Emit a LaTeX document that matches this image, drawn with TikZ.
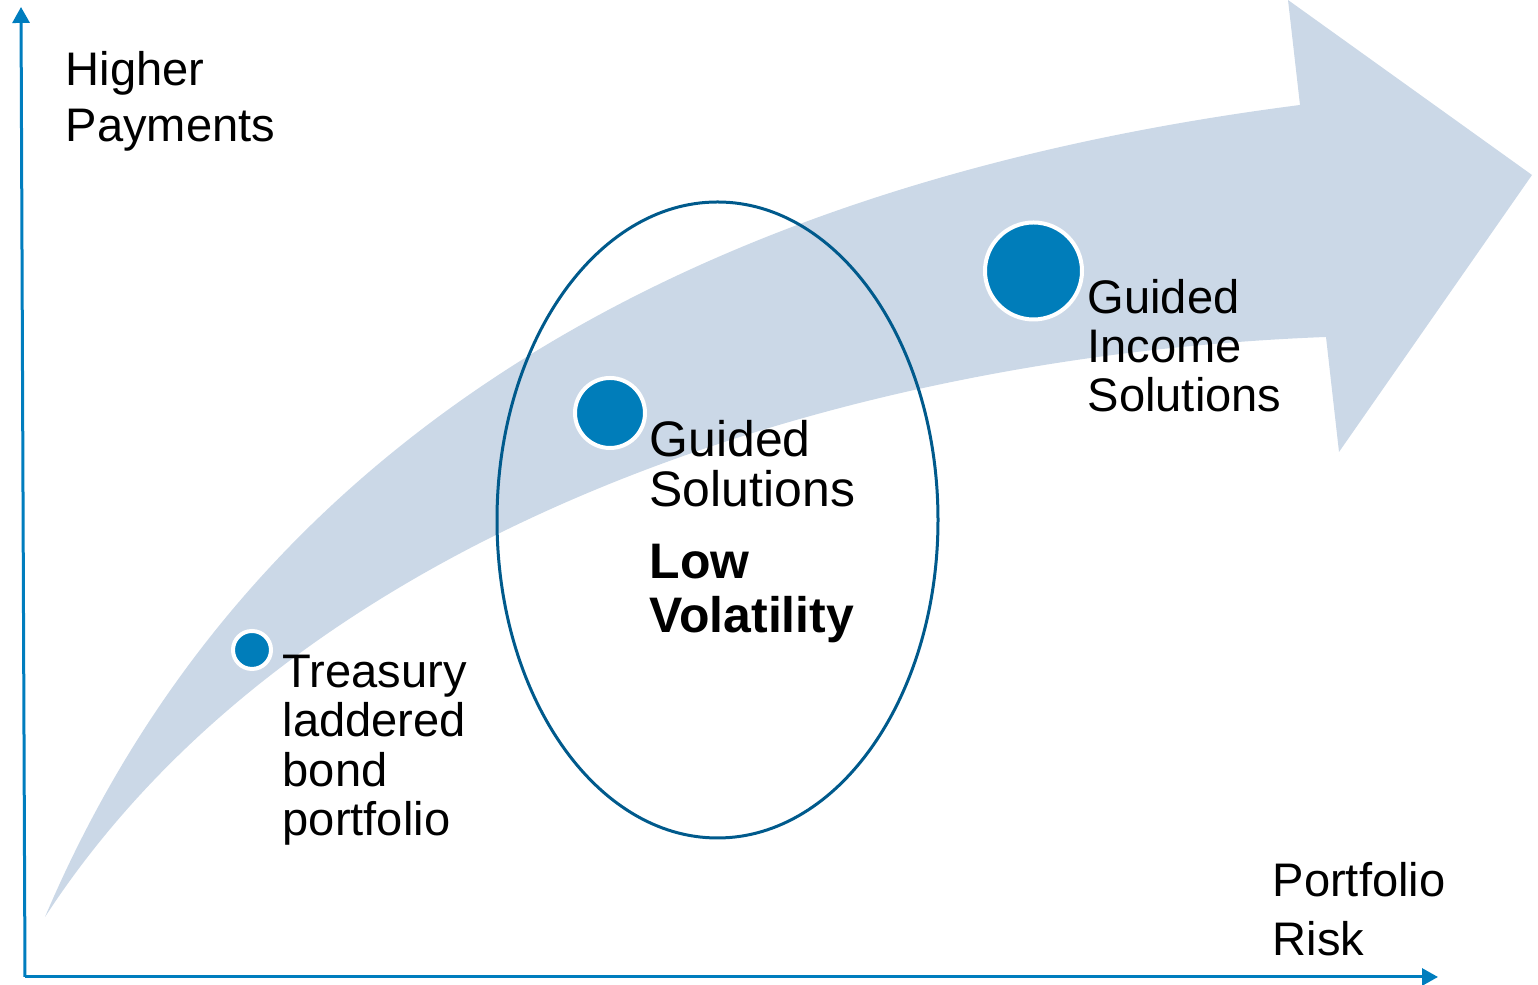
\documentclass[tikz,border=0pt]{standalone}
\usepackage{fontspec}
\setmainfont{Liberation Sans}
\usetikzlibrary{arrows.meta}

\definecolor{bandblue}{RGB}{203,216,231}
\definecolor{dotblue}{RGB}{0,125,186}
\definecolor{axisblue}{RGB}{0,125,190}
\definecolor{ringblue}{RGB}{0,90,140}

\newcommand\riskfont[2]{\fontsize{#1}{#2}\selectfont}
\newcommand\riskaxisstyle{[line width=0.03cm, draw=axisblue, -{Triangle[length=0.16cm, width=0.17cm]}]}
\tikzset{risklabel/.style={anchor=north west, inner sep=0, align=left, font=\riskfont{13.4pt}{#1}}}
\newcommand\riskdot[4]{
  \node (#1) at (#2, #3) [circle, fill=dotblue, draw=white, line width=0.04cm,
    inner sep=0, minimum size=#4cm] {};
}

\begin{document}
\begin{tikzpicture}
    \useasboundingbox (0, 0) rectangle (15.38, 9.85);
    \fill[bandblue] (0.45, 0.68)
       .. controls (2.2, 4.8) and (6.0, 7.9) .. (13.00, 8.80)
       -- (12.88, 9.85) -- (15.32, 8.10) -- (13.39, 5.33) -- (13.26, 6.48)
       .. controls (8.5, 6.3) and (3.0, 4.6) .. (0.45, 0.68) -- cycle;
    \coordinate (origin) at (0.25, 0.08);
    \coordinate (ytip) at (0.21, 9.78);
    \coordinate (xtip) at (14.38, 0.08);
    \draw (origin)\riskaxisstyle -- (ytip);
    \draw (origin)\riskaxisstyle -- (xtip);
    \draw[ringblue, line width=0.03cm] (7.175, 4.65) ellipse [x radius=2.205, y radius=3.18];
    \riskdot{treasurydot}{2.52}{3.35}{0.38}
    \riskdot{guideddot}{6.10}{5.72}{0.70}
    \riskdot{incomedot}{10.335}{7.14}{0.97}
    \node (higherpay) at (0.65, 9.34) [risklabel=15.9pt] {Higher\\Payments};
    \node (treasury) at (2.82, 3.31) [risklabel=14.1pt] {Treasury\\laddered\\bond\\portfolio};
    \node (guided) at (6.49, 5.65) [risklabel, font=\riskfont{14.2pt}{14.2pt}] {Guided\\Solutions};
    \node (lowvol) at (6.49, 4.42) [risklabel, font=\riskfont{14.2pt}{15.6pt}\bfseries] {Low\\Volatility};
    \node (guidedincome) at (10.87, 7.06) [risklabel=13.9pt] {Guided\\Income\\Solutions};
    \node (portrisk) at (12.72, 1.23) [risklabel=16.8pt] {Portfolio\\Risk};
\end{tikzpicture}
\end{document}
